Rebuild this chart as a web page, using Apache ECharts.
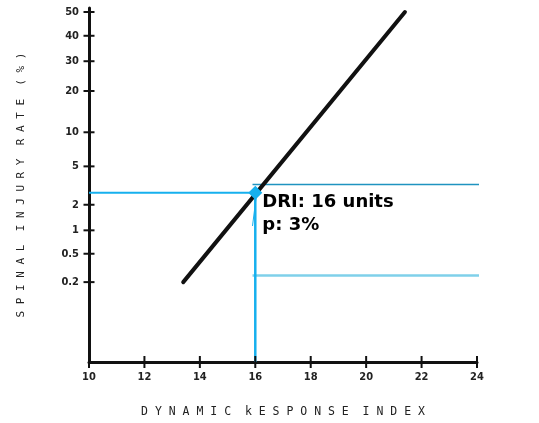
<!DOCTYPE html>
<html>
<head>
<meta charset="utf-8">
<script src="https://cdn.jsdelivr.net/npm/echarts@6/dist/echarts.min.js"></script>
<style>
  html, body { margin: 0; padding: 0; background: #fff; }
  #chart { width: 539px; height: 423px; }
</style>
</head>
<body>
<div id="chart"></div>
<script>
// Probability-scale plot: spinal injury rate (%) versus dynamic response index.
const xTicks = [10, 12, 14, 16, 18, 20, 22, 24];
const yTickPct = [50, 40, 30, 20, 10, 5, 2, 1, 0.5, 0.2];
const yRangePct = [0.0096, 51.7];          // bottom / top of the probability axis

// Injury-risk line (end points: DRI, rate %)
const riskDRI = [13.4, 21.4];
const riskPct = [0.2, 50];

// Highlighted reading on the line
const readDRI = 16;
const readPct = 2.7;

// Guide lines drawn to the right of the reading (rate %)
const guideUpperPct = 3.3;
const guideLowerPct = 0.25;
const guideStartDRI = 15.9;
const guideEndDRI = 26.3;

// Leader from the marker down toward the label
const leaderEnd = [15.9, 1.13];

// Inverse of the standard normal CDF (Acklam), maps a probability to probit units
function probit(p) {
  const a = [-3.969683028665376e+01, 2.209460984245205e+02, -2.759285104469687e+02,
             1.383577518672690e+02, -3.066479806614716e+01, 2.506628277459239e+00];
  const b = [-5.447609879822406e+01, 1.615858368580409e+02, -1.556989798598866e+02,
             6.680131188771972e+01, -1.328068155288572e+01];
  const c = [-7.784894002430293e-03, -3.223964580411365e-01, -2.400758296434824e+00,
             -2.549732975056185e+00, 4.374664141464968e+00, 2.938163982698783e+00];
  const d = [7.784695709041462e-03, 3.224671290700398e-01, 2.445134137142996e+00,
             3.754408661907416e+00];
  const plow = 0.02425;
  let q, r;
  if (p < plow) {
    q = Math.sqrt(-2 * Math.log(p));
    return (((((c[0]*q+c[1])*q+c[2])*q+c[3])*q+c[4])*q+c[5]) /
           ((((d[0]*q+d[1])*q+d[2])*q+d[3])*q+1);
  } else if (p <= 1 - plow) {
    q = p - 0.5; r = q * q;
    return (((((a[0]*r+a[1])*r+a[2])*r+a[3])*r+a[4])*r+a[5])*q /
           (((((b[0]*r+b[1])*r+b[2])*r+b[3])*r+b[4])*r+1);
  }
  q = Math.sqrt(-2 * Math.log(1 - p));
  return -(((((c[0]*q+c[1])*q+c[2])*q+c[3])*q+c[4])*q+c[5]) /
          ((((d[0]*q+d[1])*q+d[2])*q+d[3])*q+1);
}
const z = pct => probit(pct / 100);

const yTickZ = yTickPct.map(z);
const yMin = z(yRangePct[0]);
const yMax = z(yRangePct[1]);

function pctLabel(v) {
  let best = 0;
  yTickZ.forEach((t, i) => { if (Math.abs(t - v) < Math.abs(yTickZ[best] - v)) best = i; });
  return String(yTickPct[best]);
}

const INK = '#111';
const BLUE = '#16b0ee';
const tickFont = { fontFamily: 'DejaVu Sans Condensed', fontWeight: 'bold', fontSize: 11, color: '#222' };
const titleFont = { fontFamily: 'DejaVu Sans Mono', fontSize: 12, color: '#222' };
const spaced = s => s.split(' ').map(w => w.split('').join(' ')).join('  ');

const chart = echarts.init(document.getElementById('chart'), null, { renderer: 'canvas' });

chart.setOption({
  animation: false,
  backgroundColor: '#fff',
  grid: { left: 89, right: 62, top: 8, bottom: 61, containLabel: false },
  xAxis: {
    type: 'value', min: xTicks[0], max: xTicks[xTicks.length - 1], interval: 2,
    position: 'bottom',
    axisLine: { onZero: false, lineStyle: { color: INK, width: 3 } },
    axisTick: { show: false },
    axisLabel: Object.assign({ margin: 10 }, tickFont),
    splitLine: { show: false },
    name: spaced('DYNAMIC kESPONSE INDEX'),
    nameLocation: 'middle', nameGap: 44,
    nameTextStyle: Object.assign({}, titleFont, { fontSize: 11.5 })
  },
  yAxis: {
    type: 'value', min: yMin, max: yMax, position: 'left',
    axisLine: { onZero: false, lineStyle: { color: INK, width: 3 } },
    axisTick: { show: false },
    axisLabel: Object.assign({ margin: 10, customValues: yTickZ, formatter: pctLabel }, tickFont),
    splitLine: { show: false },
    name: spaced('SPINAL INJURY RATE (%)'),
    nameLocation: 'middle', nameGap: 62, nameRotate: 90,
    nameTextStyle: Object.assign({}, titleFont, { fontSize: 11 })
  },
  series: [
    {
      // tick marks that cross the x axis
      name: 'x ticks', type: 'scatter', silent: true, clip: false, z: 5,
      symbol: 'rect', symbolSize: [2, 12],
      itemStyle: { color: INK, opacity: 1 },
      data: xTicks.map(x => [x, yMin])
    },
    {
      // tick marks that cross the y axis
      name: 'y ticks', type: 'scatter', silent: true, clip: false, z: 5,
      symbol: 'rect', symbolSize: [11, 2],
      itemStyle: { color: INK, opacity: 1 },
      data: yTickZ.map(t => [xTicks[0], t])
    },
    {
      name: 'risk line', type: 'line', symbol: 'none', silent: true, z: 3,
      data: riskDRI.map((x, i) => [x, z(riskPct[i])]),
      lineStyle: { color: INK, width: 4, cap: 'round' }
    },
    {
      name: 'reading horizontal', type: 'line', symbol: 'none', silent: true, z: 4,
      data: [[xTicks[0], z(readPct)], [readDRI, z(readPct)]],
      lineStyle: { color: BLUE, width: 2 }
    },
    {
      name: 'reading vertical', type: 'line', symbol: 'none', silent: true, z: 4,
      data: [[readDRI, z(readPct)], [readDRI, yMin]],
      lineStyle: { color: BLUE, width: 2.5 }
    },
    {
      name: 'upper guide', type: 'line', symbol: 'none', silent: true, clip: false, z: 2,
      data: [[guideStartDRI, z(guideUpperPct)], [guideEndDRI, z(guideUpperPct)]],
      lineStyle: { color: '#1f93c0', width: 1.5 }
    },
    {
      name: 'lower guide', type: 'line', symbol: 'none', silent: true, clip: false, z: 2,
      data: [[guideStartDRI, z(guideLowerPct)], [guideEndDRI, z(guideLowerPct)]],
      lineStyle: { color: '#7fd0ea', width: 2.5 }
    },
    {
      name: 'reading', type: 'scatter', z: 6,
      symbol: 'diamond', symbolSize: 14,
      itemStyle: { color: BLUE, opacity: 1 },
      data: [[readDRI, z(readPct)]],
      markLine: {
        silent: true, symbol: ['none', 'arrow'], symbolSize: [0, 7],
        lineStyle: { color: BLUE, width: 1, type: 'solid', opacity: 1 },
        label: { show: false },
        data: [[{ coord: [readDRI + 0.05, z(readPct)] }, { coord: [leaderEnd[0], z(leaderEnd[1])] }]]
      },
      label: {
        show: true, position: 'right', distance: 0, offset: [0, 21],
        formatter: () => 'DRI: ' + readDRI + ' units\np: ' + Math.round(readPct) + '%',
        fontFamily: 'DejaVu Sans', fontWeight: 'bold', fontSize: 18,
        lineHeight: 23, color: '#000', opacity: 1, align: 'left'
      }
    }
  ]
});
</script>
</body>
</html>
